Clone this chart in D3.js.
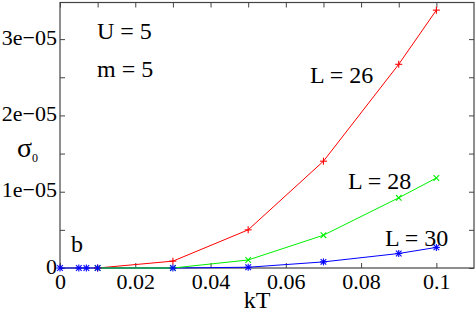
<!DOCTYPE html>
<html><head><meta charset="utf-8">
<script src="https://cdn.jsdelivr.net/npm/d3@7"></script>
<style>
html,body{margin:0;padding:0;background:#fff;}
svg{display:block;}
svg text{font-family:'Liberation Serif','Times New Roman','DejaVu Serif',serif !important;}
</style></head>
<body><svg id="c" width="475" height="316"></svg>
<script>
// Data
const kT26 = [0.01, 0.03, 0.05, 0.07, 0.09, 0.1];
const sigma26 = [0, 0.09e-5, 0.50e-5, 1.40e-5, 2.67e-5, 3.38e-5];
const kT28 = [0.01, 0.03, 0.05, 0.07, 0.09, 0.1];
const sigma28 = [0, 0, 0.105e-5, 0.43e-5, 0.92e-5, 1.18e-5];
const kT30 = [0, 0.005, 0.007, 0.01, 0.03, 0.05, 0.07, 0.09, 0.1];
const sigma30 = [0, 0, 0, 0, 0, 0.01e-5, 0.08e-5, 0.19e-5, 0.27e-5];
const xMajor = [0, 0.02, 0.04, 0.06, 0.08, 0.1];
const xMajorLabels = ["0", "0.02", "0.04", "0.06", "0.08", "0.1"];
const xMinor = [0, 0.01, 0.02, 0.03, 0.04, 0.05, 0.06, 0.07, 0.08, 0.09, 0.1];
const yMajor = [0, 1e-5, 2e-5, 3e-5];
const yMajorLabels = ["0", "1e\u221205", "2e\u221205", "3e\u221205"];
const yMinor = [0, 0.5e-5, 1e-5, 1.5e-5, 2e-5, 2.5e-5, 3e-5];

(function () {
const FONT = "'Liberation Serif','Times New Roman','DejaVu Serif',serif";
const svg = d3.select("#c");
const L = 60, R = 474, T = 2.5, B = 268;
const x = d3.scaleLinear().domain([0, 0.11]).range([L, R]);
const y = d3.scaleLinear().domain([0, 3.48e-5]).range([B, T]);
const axisColor = "#444";

svg.append("rect").attr("x", L).attr("y", T).attr("width", R - L).attr("height", B - T)
  .attr("fill", "none").attr("stroke", axisColor).attr("stroke-width", 1.2);

const tickLen = 5;
const gBottom = svg.append("g").attr("transform", `translate(0,${B})`)
  .call(d3.axisBottom(x).tickValues(xMajor).tickSizeInner(-tickLen).tickSizeOuter(0)
    .tickFormat((d, i) => xMajorLabels[i]).tickPadding(0));
gBottom.attr("font-family", FONT).attr("font-size", 22);
gBottom.select(".domain").remove();
gBottom.selectAll("line").attr("stroke", axisColor);
gBottom.selectAll("text").attr("y", 21).attr("dy", null).attr("fill", "#000");

const gTop = svg.append("g").attr("transform", `translate(0,${T})`)
  .call(d3.axisTop(x).tickValues(xMinor).tickSizeInner(-tickLen).tickSizeOuter(0).tickFormat(""));
gTop.select(".domain").remove();
gTop.selectAll("line").attr("stroke", axisColor);

const gLeft = svg.append("g").attr("transform", `translate(${L},0)`)
  .call(d3.axisLeft(y).tickValues(yMinor).tickSizeInner(-tickLen).tickSizeOuter(0)
    .tickFormat(d => { const i = yMajor.findIndex(v => Math.abs(v - d) < 1e-9); return i >= 0 ? yMajorLabels[i] : ""; })
    .tickPadding(0));
gLeft.attr("font-family", FONT).attr("font-size", 22);
gLeft.select(".domain").remove();
gLeft.selectAll("line").attr("stroke", axisColor);
gLeft.selectAll("text").attr("x", -3).attr("dy", null).attr("y", 5).attr("fill", "#000");

const gRight = svg.append("g").attr("transform", `translate(${R},0)`)
  .call(d3.axisRight(y).tickValues(yMinor).tickSizeInner(-tickLen).tickSizeOuter(0).tickFormat(""));
gRight.select(".domain").remove();
gRight.selectAll("line").attr("stroke", axisColor);

const series = [
  {xs: kT26, ys: sigma26, color: "#ff0000", mk: "plus"},
  {xs: kT30, ys: sigma30, color: "#0000ff", mk: "star"},
  {xs: kT28, ys: sigma28, color: "#00f000", mk: "cross"},
];
const line = d3.line().x(d => x(d[0])).y(d => y(d[1]));
series.forEach(s => {
  const pts = s.xs.map((v, i) => [v, s.ys[i]]);
  svg.append("path").datum(pts).attr("d", line).attr("fill", "none")
    .attr("stroke", s.color).attr("stroke-width", 1);
});
const ms = 3.5;
function marker(g, px, py, type, color) {
  const segs = [];
  if (type === "plus" || type === "star") { segs.push([-ms, 0, ms, 0], [0, -ms, 0, ms]); }
  if (type === "cross" || type === "star") { const m = ms * 0.8; segs.push([-m, -m, m, m], [-m, m, m, -m]); }
  segs.forEach(sg => g.append("line").attr("x1", px + sg[0]).attr("y1", py + sg[1])
    .attr("x2", px + sg[2]).attr("y2", py + sg[3]).attr("stroke", color).attr("stroke-width", 1.1));
}
[series[0], series[2], series[1]].forEach(s => {
  const g = svg.append("g");
  s.xs.forEach((v, i) => marker(g, x(v), y(s.ys[i]), s.mk, s.color));
});

function txt(t, px, py, size, anchor) {
  return svg.append("text").attr("x", px).attr("y", py).attr("font-size", size)
    .attr("font-family", FONT)
    .attr("text-anchor", anchor || "start").attr("fill", "#000").text(t);
}
txt("U = 5", 97, 39, 24);
txt("m = 5", 97, 77, 24);
txt("L = 26", 310, 83, 24);
txt("L = 28", 348, 189, 24);
txt("L = 30", 385, 246, 24);
txt("b", 71, 252, 24);
txt("kT", 257, 308, 24, "middle");
const sg = svg.append("text").attr("x", 17).attr("y", 157).attr("fill", "#000").attr("font-family", FONT);
sg.append("tspan").attr("font-size", 28).text("\u03c3");
sg.append("tspan").attr("font-size", 12).attr("dy", 5).text("0");
})();
</script></body></html>
